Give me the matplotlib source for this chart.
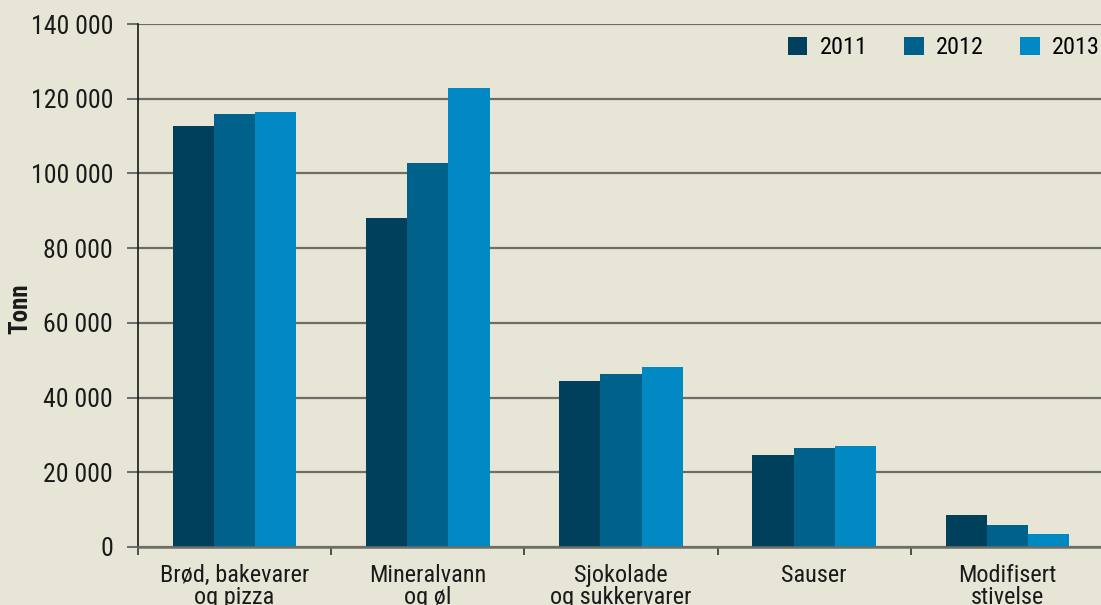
import matplotlib
matplotlib.use('Agg')
import matplotlib.pyplot as plt
from matplotlib.ticker import FuncFormatter, FixedLocator
import numpy as np

# data (tonn)
categories = ['Brød, bakevarer\nog pizza', 'Mineralvann\nog øl', 'Sjokolade\nog sukkervarer',
              'Sauser', 'Modifisert\nstivelse']
years = ['2011', '2012', '2013']
v2011 = [112800, 88000, 44500, 24500, 8600]
v2012 = [115800, 102800, 46400, 26600, 5900]
v2013 = [116400, 123000, 48300, 27100, 3500]
colors = ['#00405c', '#00628a', '#0089c2']

bg = '#e7e5d5'
plt.rcParams['font.family'] = ['Roboto Condensed', 'DejaVu Sans']

fig = plt.figure(figsize=(11.01, 6.05), dpi=100, facecolor=bg)
ax = fig.add_axes([138/1101, 58/605, 966/1101, 523/605], facecolor=bg)

x = np.arange(len(categories))
w = 0.213
for i, (vals, c, yr) in enumerate(zip([v2011, v2012, v2013], colors, years)):
    ax.bar(x + (i - 1) * w, vals, width=w, color=c, label=yr, zorder=2, linewidth=0)

ax.set_xlim(-0.5, len(categories) - 0.5)
ax.set_ylim(0, 140000)
ax.set_yticks(np.arange(0, 140001, 20000))
ax.yaxis.set_major_formatter(FuncFormatter(lambda v, p: f'{int(v):,}'.replace(',', ' ')))
ax.yaxis.grid(True, color='#6f6e66', linewidth=1.6, zorder=1)
ax.set_axisbelow(True)

ax.set_xticks(x)
ax.set_xticklabels(categories, fontsize=17.5, linespacing=0.95, color='#1a1a1a')
ax.tick_params(axis='x', which='major', length=0, pad=12)
ax.xaxis.set_minor_locator(FixedLocator(np.arange(-0.5, len(categories), 1)))
ax.tick_params(axis='x', which='minor', length=6, width=1.2, color='#333333', direction='out')
ax.tick_params(axis='y', length=8, width=1.2, color='#555555', labelsize=18.5,
               labelcolor='#1a1a1a', pad=10)

for s in ['top', 'right']:
    ax.spines[s].set_visible(False)
ax.spines['left'].set_color('#1a1a1a')
ax.spines['left'].set_linewidth(1.2)
ax.spines['bottom'].set_color('#6f6e66')
ax.spines['bottom'].set_linewidth(1.8)

fig.text(20/1101, 1 - 309/605, 'Tonn', rotation=90, fontsize=18, fontweight='bold',
         ha='center', va='center', color='#1a1a1a')

ax.legend(ncol=3, frameon=False, loc='center left', bbox_to_anchor=(788/1101, 1 - 48/605),
          bbox_transform=fig.transFigure, fontsize=17.5, handlelength=0.8, handleheight=0.8,
          handletextpad=0.5, columnspacing=1.5, borderpad=0, borderaxespad=0)

fig.savefig('out.png', dpi=100, facecolor=bg)
